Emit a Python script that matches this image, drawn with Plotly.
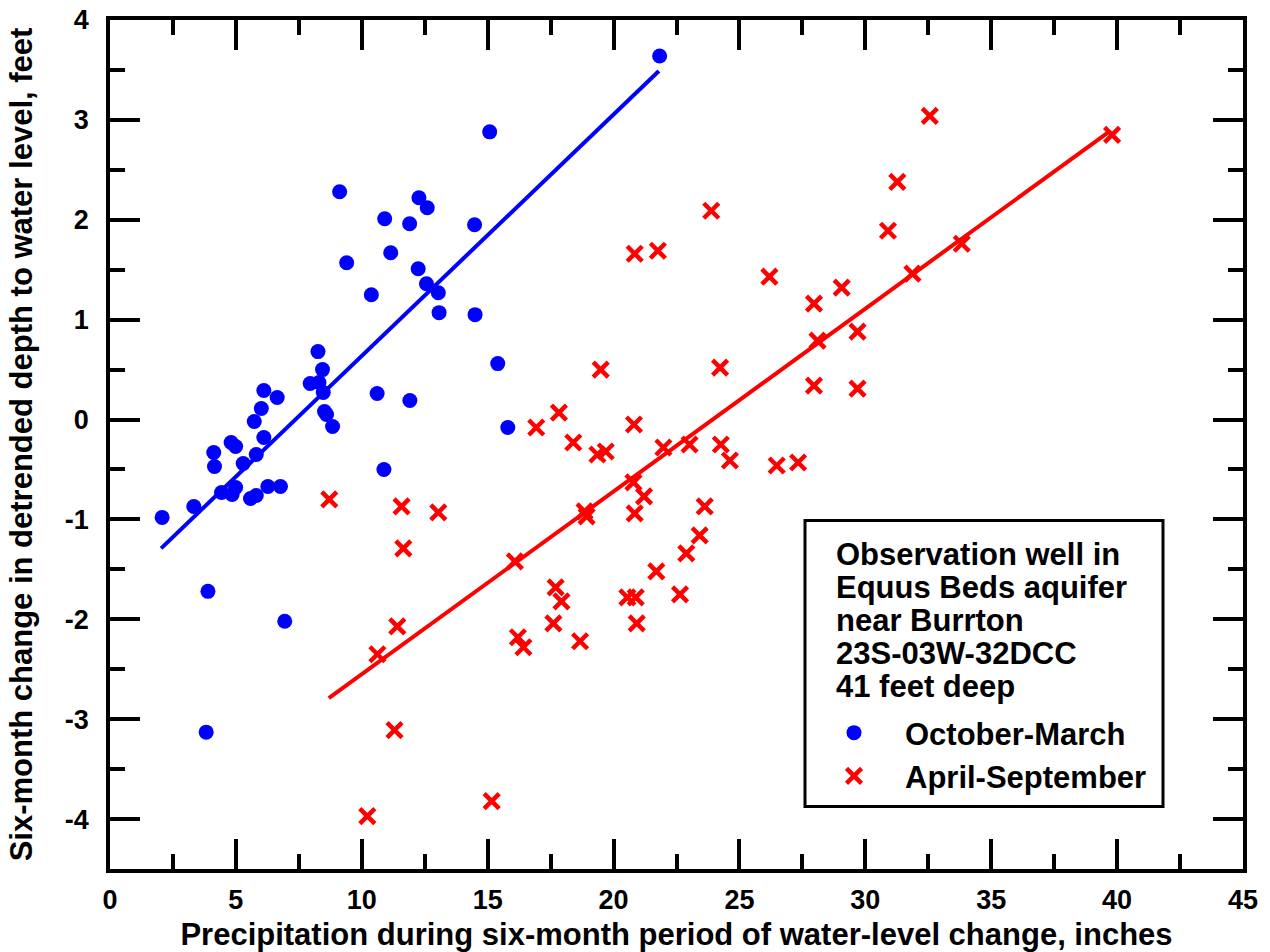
import plotly.graph_objects as go

# ---------------- data ----------------
oct_mar_precip = [2.07, 3.33, 3.89, 3.82, 4.12, 4.15, 4.43, 4.81, 4.99, 4.85, 4.99, 5.29, 5.58,
                  5.81, 5.73, 5.81, 6.01, 6.11, 6.11, 6.27, 6.64, 6.77, 6.94, 7.95, 8.30, 8.26,
                  8.44, 8.47, 8.52, 8.60, 8.84, 9.12, 9.40, 10.38, 10.61, 10.88, 10.91, 11.15,
                  11.90, 11.91, 12.24, 12.27, 12.57, 12.60, 13.04, 13.07, 14.48, 14.50, 15.08,
                  15.40, 15.80, 21.83]
oct_mar_change = [-0.98, -0.87, -1.72, -3.13, -0.33, -0.47, -0.73, -0.23, -0.27, -0.75, -0.68,
                  -0.44, -0.79, -0.76, -0.02, -0.35, 0.11, 0.29, -0.18, -0.67, 0.22, -0.67, -2.02,
                  0.36, 0.37, 0.68, 0.50, 0.27, 0.08, 0.05, -0.07, 2.28, 1.57, 1.25, 0.26, -0.50,
                  2.01, 1.67, 1.96, 0.19, 1.51, 2.22, 1.36, 2.12, 1.27, 1.07, 1.95, 1.05, 2.88,
                  0.56, -0.08, 3.64]

apr_sep_precip = [8.71, 10.22, 10.62, 11.30, 11.41, 11.58, 11.65, 13.04, 15.16, 16.08, 16.20,
                  16.42, 16.93, 17.61, 17.70, 17.83, 17.93, 18.40, 18.67, 18.85, 18.93, 19.36,
                  19.49, 19.69, 20.55, 20.79, 20.81, 20.84, 20.84, 20.88, 20.92, 21.21, 21.70,
                  21.76, 21.98, 22.64, 22.89, 23.02, 23.42, 23.62, 23.88, 24.23, 24.26, 24.62,
                  26.19, 26.48, 27.33, 27.96, 27.96, 28.10, 29.06, 29.69, 29.69, 30.90, 31.27,
                  31.87, 32.56, 33.83, 39.80]
apr_sep_change = [-0.80, -3.97, -2.35, -3.11, -2.07, -0.87, -1.29, -0.93, -3.82, -1.42, -2.18,
                  -2.28, -0.08, -2.04, -1.68, 0.07, -1.82, -0.23, -2.22, -0.92, -0.97, -0.35,
                  0.50, -0.32, -1.78, -0.63, -0.05, -0.94, 1.66, -1.78, -2.04, -0.77, -1.52,
                  1.69, -0.28, -1.75, -1.34, -0.25, -1.16, -0.87, 2.09, 0.52, -0.25, -0.41,
                  1.43, -0.46, -0.43, 1.16, 0.34, 0.79, 1.32, 0.88, 0.31, 1.89, 2.38,
                  1.46, 3.04, 1.76, 2.85]

oct_mar_fit_x = [2.03, 21.80]
oct_mar_fit_y = [-1.29, 3.49]
apr_sep_fit_x = [8.69, 39.62]
apr_sep_fit_y = [-2.79, 2.87]

x_tick_vals = [0, 5, 10, 15, 20, 25, 30, 35, 40, 45]
x_tick_text = ["0", "5", "10", "15", "20", "25", "30", "35", "40", "45"]
y_tick_vals = [-4, -3, -2, -1, 0, 1, 2, 3, 4]
y_tick_text = ["-4", "-3", "-2", "-1", "0", "1", "2", "3", "4"]

series_names = ["October-March", "April-September"]
note_lines = ["Observation well in", "Equus Beds aquifer", "near Burrton",
              "23S-03W-32DCC", "41 feet deep"]

x_title = "Precipitation during six-month period of water-level change, inches"
y_title = "Six-month change in detrended depth to water level, feet"

# ---------------- styling / layout ----------------
FONT = "Liberation Sans, Arial, Helvetica, sans-serif"
BLUE = "#0000ff"
RED = "#ff0000"
W, H = 1270, 952
# plot area on screen: x 110..1243, y 20..869
M_L, M_T = 110, 20
M_R = W - 1243
M_B = H - 869
PW = W - M_L - M_R
PH = H - M_T - M_B


def scr_x(px):
    """screen x pixel -> paper fraction"""
    return (px - M_L) / PW


def scr_y(py):
    """screen y pixel -> paper fraction"""
    return (M_T + PH - py) / PH


fig = go.Figure()

fig.add_trace(go.Scatter(x=oct_mar_fit_x, y=oct_mar_fit_y, mode="lines",
                         line=dict(color=BLUE, width=4), showlegend=False, hoverinfo="skip"))
fig.add_trace(go.Scatter(x=apr_sep_fit_x, y=apr_sep_fit_y, mode="lines",
                         line=dict(color=RED, width=4), showlegend=False, hoverinfo="skip"))
fig.add_trace(go.Scatter(x=oct_mar_precip, y=oct_mar_change, mode="markers",
                         name=series_names[0], legendgroup="a",
                         marker=dict(symbol="circle", size=15, color=BLUE,
                                     line=dict(width=0))))
fig.add_trace(go.Scatter(x=apr_sep_precip, y=apr_sep_change, mode="markers",
                         name=series_names[1], legendgroup="b",
                         marker=dict(symbol="x-thin", size=15, color=RED,
                                     line=dict(color=RED, width=4.5))))

axis_common = dict(
    showline=True, linecolor="black", linewidth=3.5, mirror="ticks",
    ticks="inside", ticklen=30, tickwidth=3.5, tickcolor="black",
    showgrid=False, zeroline=False, automargin=False,
    ticklabeloverflow="allow",
    tickfont=dict(family=FONT, size=27, color="black", weight="bold"),
)

fig.update_xaxes(
    range=[0, 45], tickmode="array", tickvals=x_tick_vals, ticktext=x_tick_text,
    minor=dict(ticks="inside", ticklen=15, tickwidth=3.5, tickcolor="black",
               dtick=2.5, tick0=0, showgrid=False),
    title=dict(text=x_title, font=dict(family=FONT, size=31, color="black", weight="bold"),
               standoff=10),
    ticklabelstandoff=4,
    **axis_common,
)
fig.update_yaxes(
    range=[-4.5, 4], tickmode="array", tickvals=y_tick_vals, ticktext=y_tick_text,
    minor=dict(ticks="inside", ticklen=15, tickwidth=3.5, tickcolor="black",
               dtick=0.5, tick0=0, showgrid=False),
    title=dict(text=y_title, font=dict(family=FONT, size=31, color="black", weight="bold"),
               standoff=24),
    ticklabelstandoff=12,
    **axis_common,
)

# legend box frame
fig.add_shape(type="rect", xref="paper", yref="paper",
              x0=scr_x(805), x1=scr_x(1163),
              y0=scr_y(806.5), y1=scr_y(520.5),
              line=dict(color="black", width=3), fillcolor="white", layer="below")

# legend note text
note_top = 554
note_step = 33
for i, line in enumerate(note_lines):
    fig.add_annotation(xref="paper", yref="paper", x=scr_x(834), y=scr_y(note_top + i * note_step),
                       xanchor="left", yanchor="middle", text=line, showarrow=False,
                       font=dict(family=FONT, size=31, color="black", weight="bold"))

fig.update_layout(
    width=W, height=H,
    margin=dict(l=M_L, r=M_R, t=M_T, b=M_B, pad=0, autoexpand=False),
    paper_bgcolor="white", plot_bgcolor="white",
    showlegend=True,
    legend=dict(x=scr_x(803), y=scr_y(706), xanchor="left", yanchor="top",
                bgcolor="rgba(0,0,0,0)", borderwidth=0, itemwidth=92,
                tracegroupgap=0,
                font=dict(family=FONT, size=31, color="black", weight="bold")),
)

fig.write_html("out.html",
               config={"displayModeBar": False},
               post_script="document.body.style.margin='0px';document.body.style.overflow='hidden';")
